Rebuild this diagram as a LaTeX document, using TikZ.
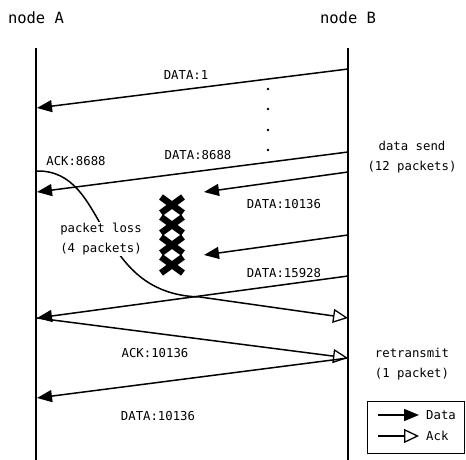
\documentclass[tikz,border=0pt]{standalone}
\usepackage{fontspec}
\setmonofont{DejaVu Sans Mono}
\usetikzlibrary{arrows.meta,positioning}

\begin{document}
\begin{tikzpicture}[
  x=1pt, y=-1pt,
  life/.style={draw, line width=1.8pt},
  msg/.style={draw, line width=1.5pt,
              -{Triangle[length=15pt,width=12pt]}},
  ack/.style={draw, line width=1.5pt,
              -{Triangle[open,length=15pt,width=14pt,line width=1.3pt]}},
  lbl/.style={font=\ttfamily\fontsize{12.3}{20}\selectfont, inner sep=1pt},
  ttl/.style={font=\ttfamily\fontsize{15.5}{18}\selectfont},
  lost/.style={draw, line width=6.5pt},
  key/.style={draw, line width=1pt, minimum width=97pt, minimum height=52pt}
]
\useasboundingbox (0,0) rectangle (466,460);

\node[ttl] (nA) at (36,18)  {node A};
\node[ttl] (nB) at (348,18) {node B};
\coordinate (a0) at (36,48);  \coordinate (a9) at (36,460);
\coordinate (b0) at (348,48); \coordinate (b9) at (348,460);
\draw[life] (a0) -- (a9);
\draw[life] (b0) -- (b9);

\coordinate (b1) at (348,69);  \coordinate (a1) at (37,108);
\coordinate (b2) at (348,152); \coordinate (a2) at (37,192);
\coordinate (b3) at (348,172); \coordinate (l3) at (204,192);
\coordinate (b4) at (348,235); \coordinate (l4) at (204,255);
\coordinate (b5) at (348,276); \coordinate (a5) at (37,318);
\coordinate (ak) at (37,171);  \coordinate (bk) at (348,318);
\coordinate (a6) at (37,318);  \coordinate (b6) at (348,358);
\coordinate (b7) at (348,358); \coordinate (a7) at (37,398);

\draw[msg] (b1) -- (a1);
\draw[msg] (b2) -- (a2);
\draw[msg] (b3) -- (l3);
\draw[msg] (b4) -- (l4);
\draw[msg] (b5) -- (a5);
\draw[ack] (ak) .. controls (110,170) and (92,294) .. (200,297) -- (bk);
\draw[ack] (a6) -- (b6);
\draw[msg] (b7) -- (a7);

\foreach \y in {89,109,130,150}
  \fill (268,\y) circle (1.3pt);

\foreach \y in {205,225,245,265} {
  \draw[lost] (161,\y-8) -- (183,\y+8);
  \draw[lost] (161,\y+8) -- (183,\y-8);
}

\node[lbl] (d1)  at (186,75)  {DATA:1};
\node[lbl] (d2)  at (198,155) {DATA:8688};
\node[lbl] (k1)  at (76,161)  {ACK:8688};
\node[lbl] (d3)  at (284,204) {DATA:10136};
\node[lbl] (d5)  at (284,273) {DATA:15928};
\node[lbl, fill=white, align=center] (loss) at (101,239)
  {packet loss\\(4 packets)};
\node[lbl, align=center] (send) at (412,157) {data send\\(12 packets)};
\node[lbl] (k2)  at (155,353) {ACK:10136};
\node[lbl] (d6)  at (158,416) {DATA:10136};
\node[lbl, align=center] (retx) at (412,364) {retransmit\\(1 packet)};

\node[key] (box) at (416,427) {};
\coordinate (kd0) at (378,415); \coordinate (kd1) at (419,415);
\coordinate (ka0) at (378,436); \coordinate (ka1) at (419,436);
\draw[msg] (kd0) -- (kd1);
\draw[ack] (ka0) -- (ka1);
\node[lbl, anchor=west] (kd) at (425,415) {Data};
\node[lbl, anchor=west] (ka) at (425,436) {Ack};
\end{tikzpicture}
\end{document}
